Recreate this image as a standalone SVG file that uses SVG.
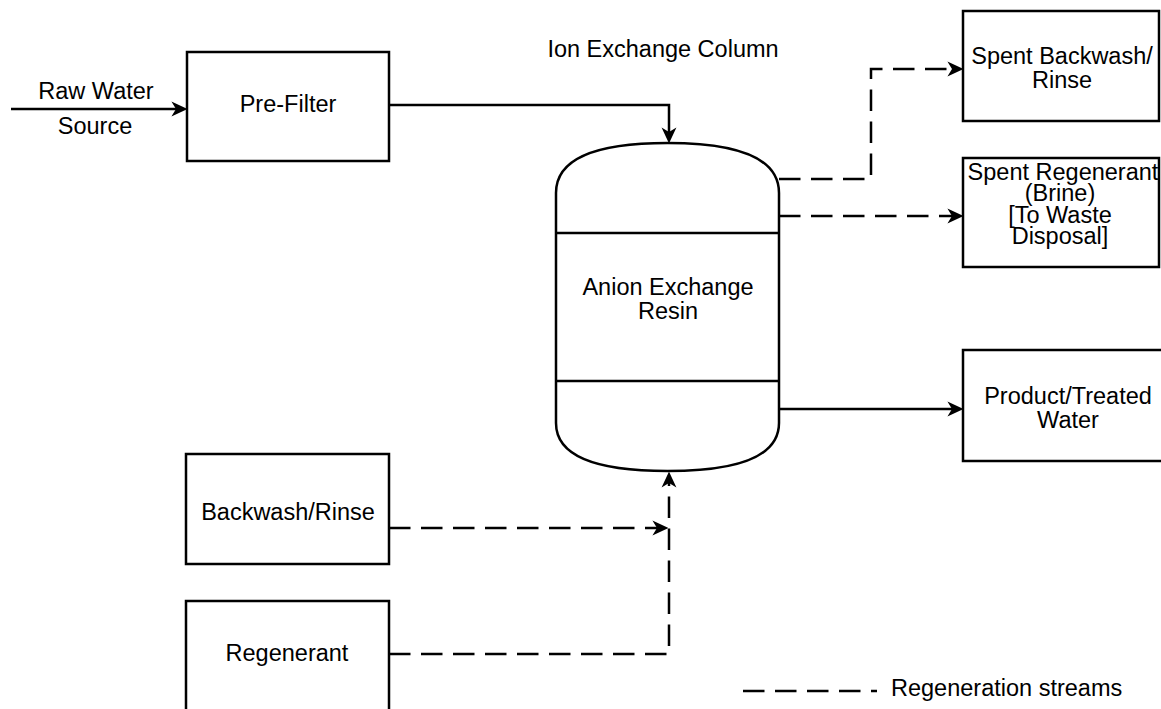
<svg xmlns="http://www.w3.org/2000/svg" width="1161" height="709" viewBox="0 0 1161 709">
<style>
.box{fill:#fff;stroke:#000;stroke-width:2.5}
.t{font-family:"Liberation Sans",Arial,Helvetica,sans-serif;font-size:23.5px;fill:#000;text-anchor:middle}
.ln{fill:none;stroke:#000;stroke-width:2.5}
.dash{stroke-dasharray:21.5 10.5}
</style>
<defs>
<marker id="arr" markerUnits="userSpaceOnUse" markerWidth="16" markerHeight="16" viewBox="0 0 14 14" refX="4" refY="7" orient="auto">
<path d="M0,0.5 L14,7 L0,13.5 L4,7 Z" fill="#000" stroke="none"/>
</marker>
</defs>
<rect width="1161" height="709" fill="#fff"/>

<g id="raw-water">
<text class="t" x="96" y="99">Raw Water</text>
<text class="t" x="95" y="134">Source</text>
</g>

<g id="pre-filter">
<rect class="box" x="187" y="52" width="202" height="109"/>
<text class="t" x="288" y="112">Pre-Filter</text>
</g>

<g id="column">
<text class="t" x="663" y="57">Ion Exchange Column</text>
<path class="box" d="M556,193 C556,150 619.5,143 667.5,143 C715.5,143 779,150 779,193 L779,423 C779,465 715.5,471 667.5,471 C619.5,471 556,465 556,423 Z"/>
<line class="ln" x1="556" y1="233" x2="779" y2="233"/>
<line class="ln" x1="556" y1="381" x2="779" y2="381"/>
<text class="t" x="668" y="295">Anion Exchange</text>
<text class="t" x="668" y="319">Resin</text>
</g>

<g id="spent-backwash">
<rect class="box" x="963" y="11" width="196" height="110"/>
<text class="t" x="1062" y="64">Spent Backwash/</text>
<text class="t" x="1062" y="88">Rinse</text>
</g>

<g id="spent-regenerant">
<rect class="box" x="963" y="158" width="196" height="109"/>
<text class="t" x="1063" y="180">Spent Regenerant</text>
<text class="t" x="1060" y="201">(Brine)</text>
<text class="t" x="1060" y="223">[To Waste</text>
<text class="t" x="1060" y="244">Disposal]</text>
</g>

<g id="product">
<rect class="box" x="963" y="350" width="200" height="111"/>
<text class="t" x="1068" y="404">Product/Treated</text>
<text class="t" x="1068" y="428">Water</text>
</g>

<g id="backwash">
<rect class="box" x="186" y="454" width="203" height="110"/>
<text class="t" x="288" y="520">Backwash/Rinse</text>
</g>

<g id="regenerant">
<rect class="box" x="186" y="601" width="203" height="112"/>
<text class="t" x="287" y="661">Regenerant</text>
</g>

<g id="connectors">
<path class="ln" d="M11,109 H176" marker-end="url(#arr)"/>
<path class="ln" d="M389,105 H669 V132" marker-end="url(#arr)"/>
<path class="ln dash" d="M779,179 H871 V69 H952" marker-end="url(#arr)"/>
<path class="ln dash" d="M779,216 H952" marker-end="url(#arr)"/>
<path class="ln" d="M779,409 H952" marker-end="url(#arr)"/>
<path class="ln dash" d="M389,528 H657" marker-end="url(#arr)"/>
<path class="ln dash" d="M389,654 H669 V483" marker-end="url(#arr)"/>
</g>

<g id="legend">
<path class="ln dash" d="M743,691 H877"/>
<text class="t" x="891" y="696" style="text-anchor:start">Regeneration streams</text>
</g>
</svg>
